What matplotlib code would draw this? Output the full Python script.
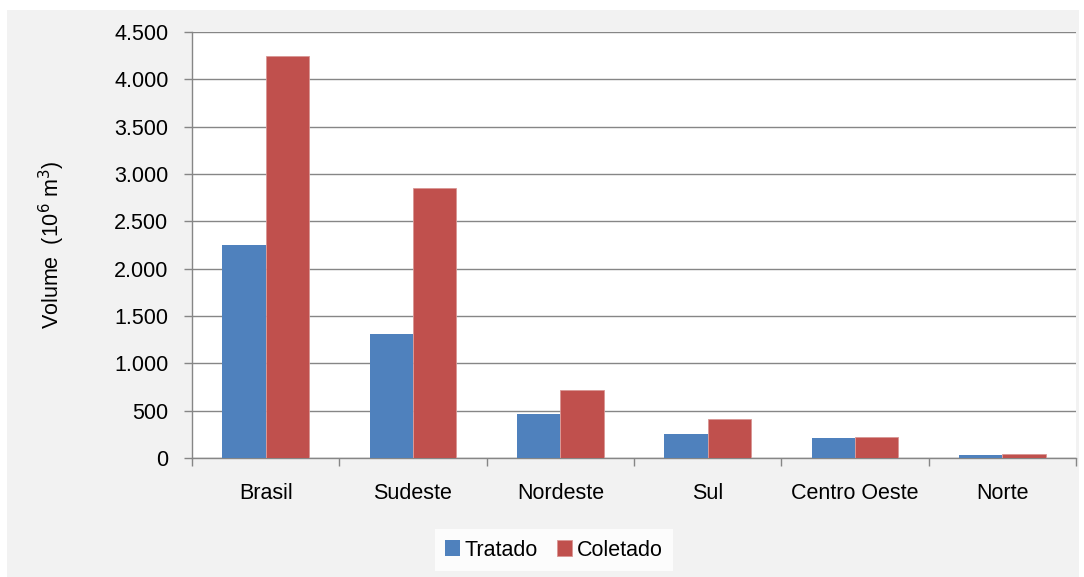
import matplotlib.pyplot as plt
import matplotlib.patches as mpatches
from matplotlib.ticker import FuncFormatter, MultipleLocator
import numpy as np

regioes = ['Brasil', 'Sudeste', 'Nordeste', 'Sul', 'Centro Oeste', 'Norte']
tratado = [2245, 1310, 465, 250, 208, 28]
coletado = [4245, 2851, 721, 409, 222, 45]

AZUL = '#4F81BD'
VERMELHO = '#C0504D'
CINZA = '#868686'
FS = 15.5

plt.rcParams['font.family'] = ['Liberation Sans', 'DejaVu Sans']
plt.rcParams['font.size'] = FS

fig = plt.figure(figsize=(10.84, 5.77), dpi=100)
fig.patch.set_facecolor('white')
# fundo cinza do grafico (estilo Excel)
fig.patches.append(mpatches.Rectangle((7 / 1084, 0), 1072 / 1084, 567 / 577,
                                      transform=fig.transFigure, facecolor='#F2F2F2',
                                      edgecolor='none', zorder=-10))

ax = fig.add_axes([192 / 1084, 1 - 458 / 577, 884 / 1084, 426 / 577])
ax.set_facecolor('white')

x = np.arange(len(regioes))
w = 0.295
ax.bar(x - w / 2, tratado, w, color=AZUL, label='Tratado', zorder=3)
ax.bar(x + w / 2, coletado, w, color=VERMELHO, label='Coletado', zorder=3,
       edgecolor='#D99694', linewidth=0.6)

ax.set_xlim(-0.5, len(regioes) - 0.5)
ax.set_ylim(0, 4500)
ax.yaxis.set_major_locator(MultipleLocator(500))
ax.yaxis.set_major_formatter(FuncFormatter(lambda v, p: f'{int(v):,}'.replace(',', '.')))
ax.grid(axis='y', color=CINZA, linewidth=1, zorder=0)

ax.set_xticks(x)
ax.set_xticklabels(regioes)
ax.set_xticks(np.arange(-0.5, len(regioes)), minor=True)
ax.tick_params(axis='x', which='major', length=0, pad=18)
ax.tick_params(axis='x', which='minor', length=6, color=CINZA, width=1)
ax.tick_params(axis='y', length=6, color=CINZA, width=1, pad=11)

for s in ['top', 'right']:
    ax.spines[s].set_visible(False)
for s in ['left', 'bottom']:
    ax.spines[s].set_color(CINZA)
    ax.spines[s].set_linewidth(1)

ax.set_ylabel('Volume  (10$^{6}$ m$^{3}$)', fontsize=FS)
ax.yaxis.set_label_coords(-(192 - 67) / 884, 0.5)

leg = fig.legend(loc='center', bbox_to_anchor=(554 / 1084, 1 - 550 / 577), ncol=2,
                 frameon=True, fancybox=False, handlelength=0.7, handleheight=0.7,
                 handletextpad=0.2, columnspacing=0.9, borderpad=0.5, fontsize=FS)
leg.get_frame().set_facecolor('white')
leg.get_frame().set_edgecolor('none')

fig.savefig('out.png', dpi=100)
